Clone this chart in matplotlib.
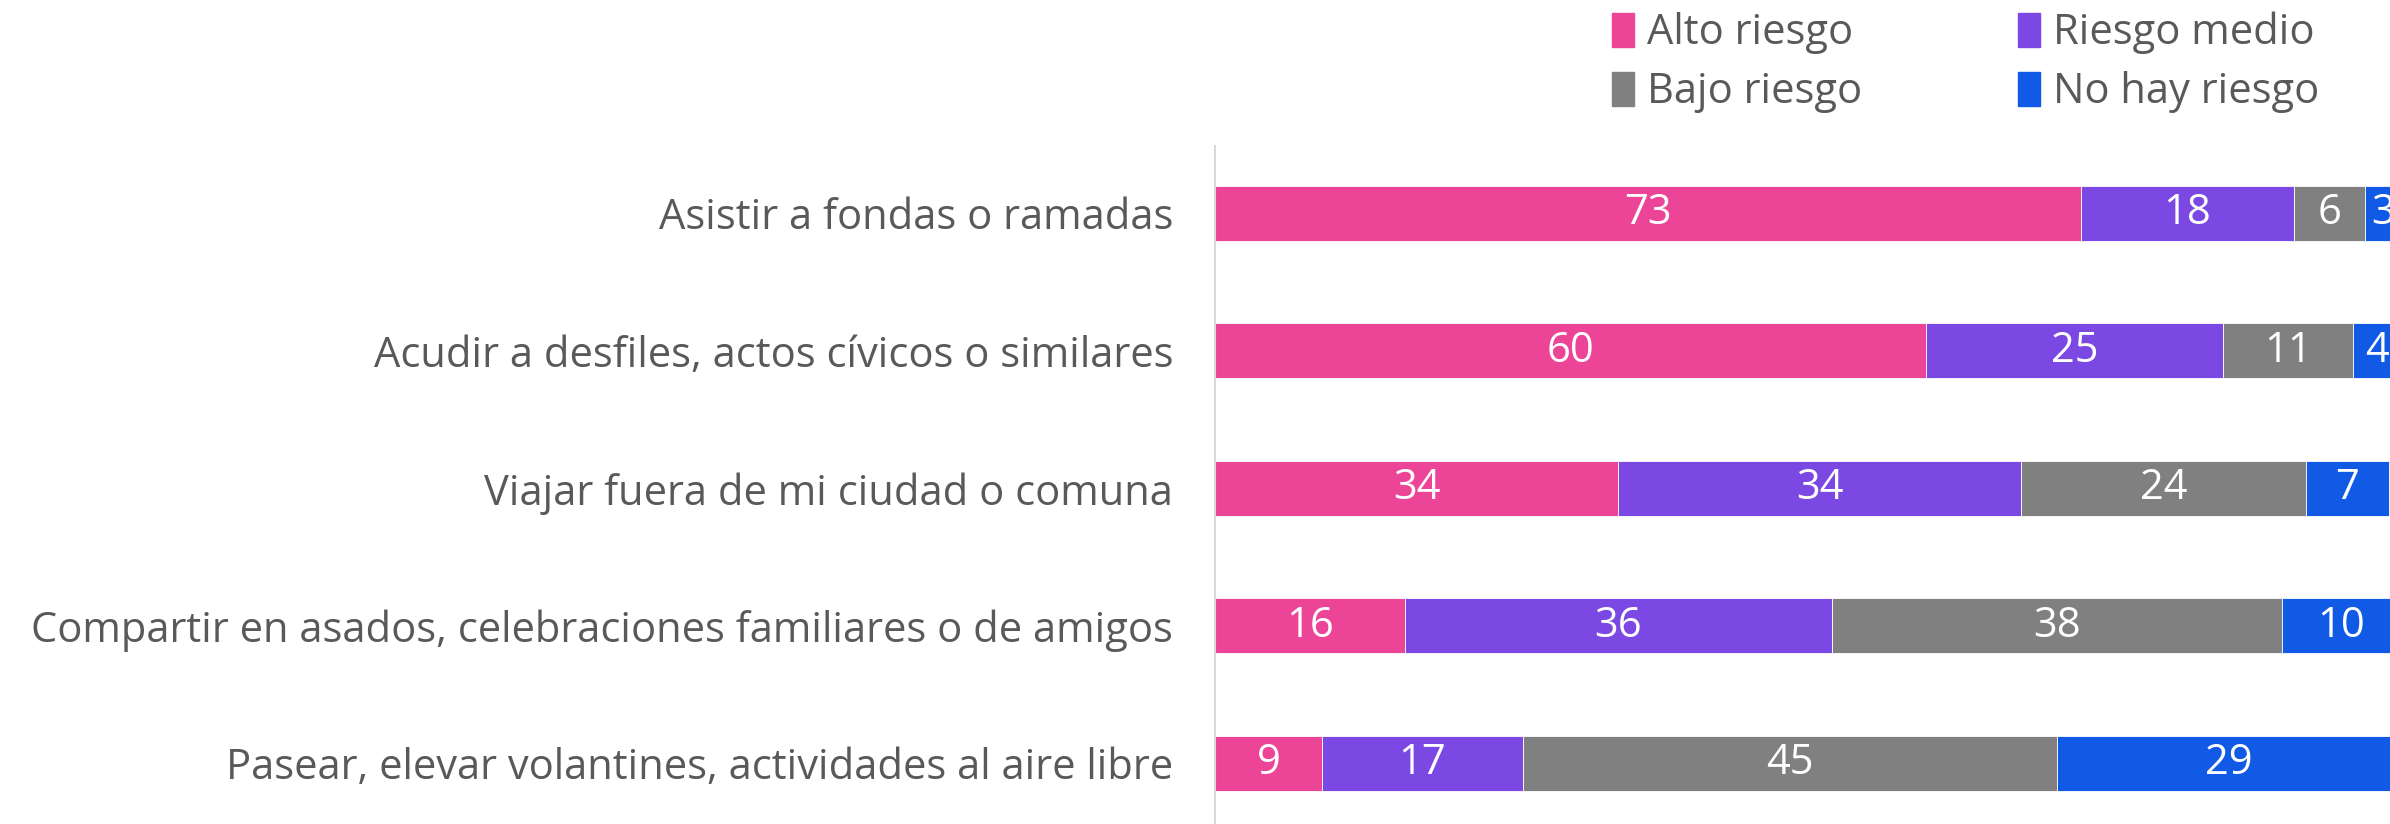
import matplotlib
matplotlib.use("Agg")
import matplotlib.pyplot as plt
from matplotlib.patches import Patch

categories = [
    "Asistir a fondas o ramadas",
    "Acudir a desfiles, actos cívicos o similares",
    "Viajar fuera de mi ciudad o comuna",
    "Compartir en asados, celebraciones familiares o de amigos",
    "Pasear, elevar volantines, actividades al aire libre",
]
series_names = ["Alto riesgo", "Riesgo medio", "Bajo riesgo", "No hay riesgo"]
alto = [73, 60, 34, 16, 9]
medio = [18, 25, 34, 36, 17]
bajo = [6, 11, 24, 38, 45]
no_hay = [3, 4, 7, 10, 29]
series_values = [alto, medio, bajo, no_hay]
colors = ["#EC4497", "#7B48E3", "#808080", "#105AE6"]

plt.rcParams["font.family"] = ["Open Sans", "DejaVu Sans"]
text_color = "#595959"
FS = 30

W, H = 2390, 824
fig = plt.figure(figsize=(W / 100, H / 100), dpi=100)
ax = fig.add_axes([1215 / W, 0, 1 - 1215 / W, 1 - 146 / H])

ypos = list(range(len(categories)))
left = [0] * len(categories)
for name, vals, c in zip(series_names, series_values, colors):
    ax.barh(ypos, vals, left=left, height=0.4, color=c,
            edgecolor="white", linewidth=0.6, label=name)
    for y, v, l in zip(ypos, vals, left):
        ax.text(l + v / 2, y, str(v), ha="center", va="center",
                color="white", fontsize=FS)
    left = [a + b for a, b in zip(left, vals)]

ax.set_xlim(0, 99.1)
ax.set_ylim(4.44, -0.49)
ax.set_yticks(ypos)
ax.set_yticklabels(categories, fontsize=FS, color=text_color)
ax.tick_params(axis="y", length=0, pad=30)
ax.set_xticks([])
for s in ["top", "right", "bottom"]:
    ax.spines[s].set_visible(False)
ax.spines["left"].set_color("#d9d9d9")
ax.spines["left"].set_linewidth(1.5)

handles = [Patch(color=c) for c in colors]
order = [0, 2, 1, 3]
fig.legend([handles[i] for i in order], [series_names[i] for i in order],
           ncol=2, loc="upper left", bbox_to_anchor=(1612 / W, 1 - 12 / H),
           frameon=False, fontsize=FS, labelcolor=text_color,
           handlelength=0.53, handleheight=0.86, handletextpad=0.3,
           columnspacing=3.75, labelspacing=0.4, borderaxespad=0,
           borderpad=0)

fig.savefig("out.png", dpi=100, facecolor="white")
